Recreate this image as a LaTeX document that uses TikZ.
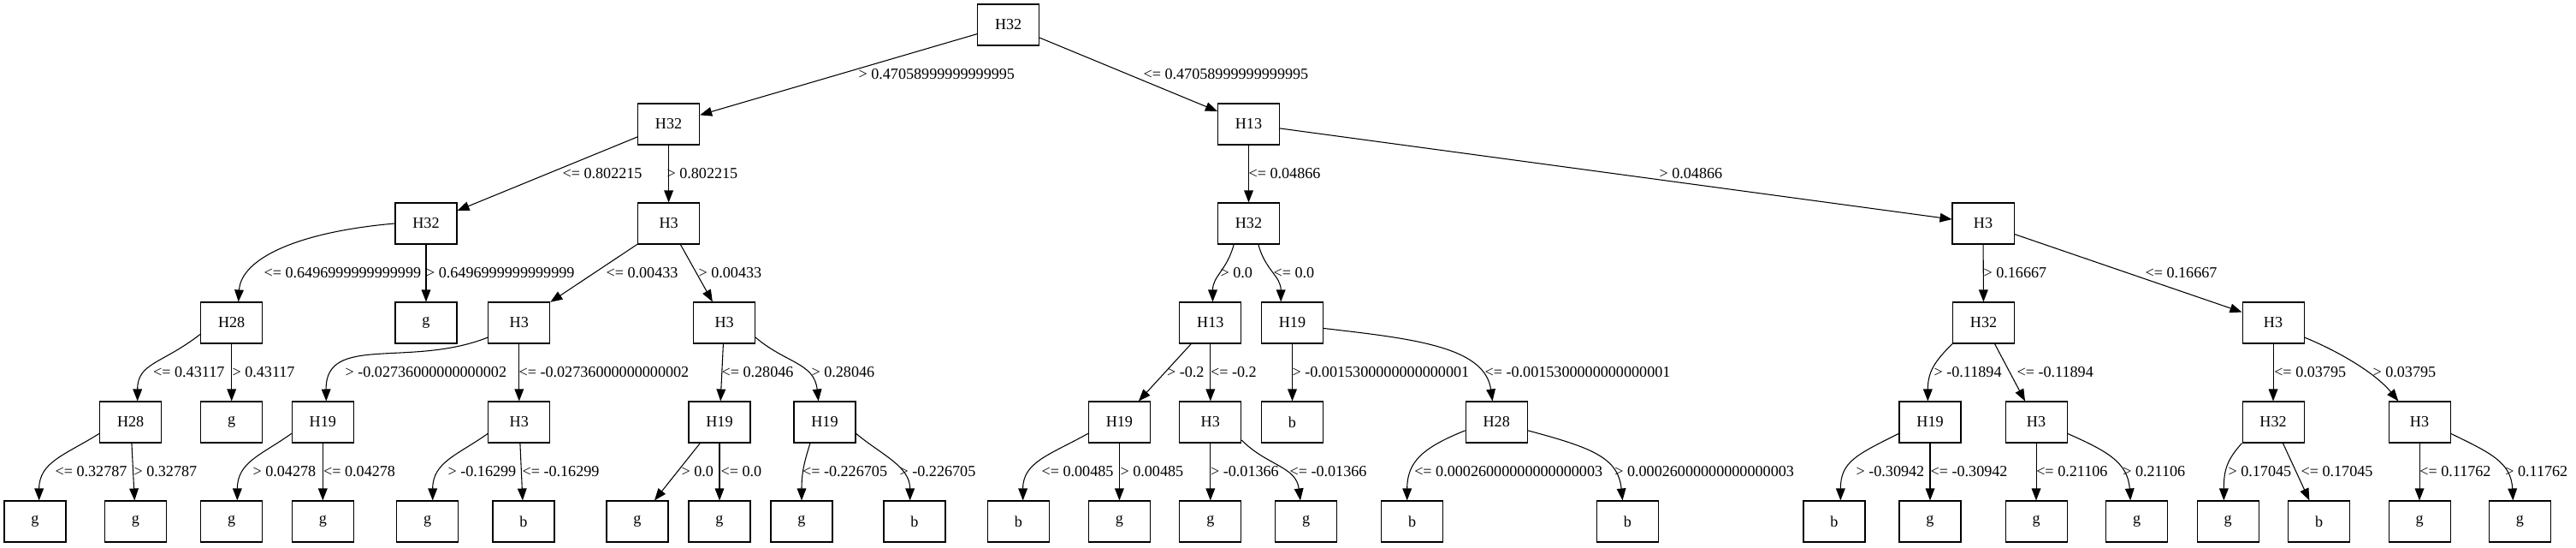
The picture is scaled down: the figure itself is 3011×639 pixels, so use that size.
\documentclass[tikz,border=0pt]{standalone}
\usepackage{fontspec}
\setmainfont{Liberation Serif}
\usetikzlibrary{arrows.meta}

\tikzset{
  box/.style={draw, line width=0.8pt, minimum width=54pt, minimum height=36pt, inner sep=0pt},
  link/.style={line width=0.8pt, -{Triangle[length=10.5pt, width=8pt]}},
  lbl/.style={anchor=west, inner sep=0pt}
}

\begin{document}
\begin{tikzpicture}[x=0.75pt, y=-0.75pt, font=\fontsize{13.6}{16}\selectfont]
    \useasboundingbox (0,0) rectangle (3011,639);
    % level 0 and 1
    \node[box] (t) at (1178.6,29) {H32};
    \node[box] (a1) at (781.6,145) {H32};
    \node[box] (a2) at (1459.5,145) {H13};
    % level 2
    \node[box] (b1) at (498,261) {H32};
    \node[box] (b2) at (781.6,261) {H3};
    \node[box] (b3) at (1459.5,261) {H32};
    \node[box] (b4) at (2318,261) {H3};
    % level 3
    \node[box] (c1) at (270.7,377) {H28};
    \node[box] (c2) at (498,377) {g};
    \node[box] (c3) at (606.8,377) {H3};
    \node[box] (c4) at (846.6,377) {H3};
    \node[box] (c5) at (1414.8,377) {H13};
    \node[box] (c6) at (1510.5,377) {H19};
    \node[box] (c7) at (2318.5,377) {H32};
    \node[box] (c8) at (2657,377) {H3};
    % level 4
    \node[box] (d1) at (152.7,493) {H28};
    \node[box] (d2) at (270.7,493) {g};
    \node[box] (d3) at (377.3,493) {H19};
    \node[box] (d4) at (606.8,493) {H3};
    \node[box] (d5) at (841,493) {H19};
    \node[box] (d6) at (964,493) {H19};
    \node[box] (d7) at (1308.4,493) {H19};
    \node[box] (d8) at (1414.8,493) {H3};
    \node[box] (d9) at (1510.5,493) {b};
    \node[box] (d10) at (1749.2,493) {H28};
    \node[box] (d11) at (2256,493) {H19};
    \node[box] (d12) at (2380,493) {H3};
    \node[box] (d13) at (2657,493) {H32};
    \node[box] (d14) at (2828,493) {H3};
    % leaves
    \node[box] (e1) at (41,609) {g};
    \node[box] (e2) at (158.5,609) {g};
    \node[box] (e3) at (270.7,609) {g};
    \node[box] (e4) at (377.3,609) {g};
    \node[box] (e5) at (499.7,609) {g};
    \node[box] (e6) at (612,609) {b};
    \node[box] (e7) at (745,609) {g};
    \node[box] (e8) at (841,609) {g};
    \node[box] (e9) at (937,609) {g};
    \node[box] (e10) at (1069,609) {b};
    \node[box] (e11) at (1190.3,609) {b};
    \node[box] (e12) at (1308.4,609) {g};
    \node[box] (e13) at (1414.8,609) {g};
    \node[box] (e14) at (1526.6,609) {g};
    \node[box] (e15) at (1650.7,609) {b};
    \node[box] (e16) at (1902.5,609) {b};
    \node[box] (e17) at (2144,609) {b};
    \node[box] (e18) at (2256,609) {g};
    \node[box] (e19) at (2380,609) {g};
    \node[box] (e20) at (2497.5,609) {g};
    \node[box] (e21) at (2604,609) {g};
    \node[box] (e22) at (2710.7,609) {b};
    \node[box] (e23) at (2828,609) {g};
    \node[box] (e24) at (2945.3,609) {g};

    % splits from the root
    \draw[link] (t) -- (a1) node[lbl] at (1003,87) {> 0.47058999999999995};
    \draw[link] (t) -- (a2) node[lbl] at (1336,87) {<= 0.47058999999999995};
    \draw[link] (a1) -- (b1) node[lbl] at (657,203) {<= 0.802215};
    \draw[link] (a1) -- (b2) node[lbl] at (779,203) {> 0.802215};
    \draw[link] (a2) -- (b3) node[lbl] at (1459,203) {<= 0.04866};
    \draw[link] (a2) -- (b4) node[lbl] at (1939,203) {> 0.04866};

    \draw[link] (b1.west) .. controls +(-115,10) and +(3,-50) .. ([xshift=6pt]c1.north)
        node[lbl] at (308,319) {<= 0.6496999999999999};
    \draw[link] (b1) -- (c2) node[lbl] at (497.5,319) {> 0.6496999999999999};
    \draw[link] (b2) -- (c3) node[lbl] at (708,319) {<= 0.00433};
    \draw[link] (b2) -- (c4) node[lbl] at (816,319) {> 0.00433};
    \draw[link] ([xshift=-13pt]b3.south) .. controls +(-8,30) and +(0,-30) .. ([xshift=2pt]c5.north)
        node[lbl] at (1426,319) {> 0.0};
    \draw[link] ([xshift=8.5pt]b3.south) .. controls +(8,30) and +(0,-30) .. ([xshift=-10pt]c6.north)
        node[lbl] at (1488,319) {<= 0.0};
    \draw[link] (b4) -- (c7) node[lbl] at (2318,319) {> 0.16667};
    \draw[link] (b4) -- (c8) node[lbl] at (2507,319) {<= 0.16667};

    \draw[link] (c1.200) .. controls +(-45,35) and +(0,-45) .. ([xshift=6pt]d1.north)
        node[lbl] at (178.6,435) {<= 0.43117};
    \draw[link] (c1) -- (d2) node[lbl] at (271,435) {> 0.43117};
    \draw[link] (c3.205) .. controls +(-91,36) and +(-1,-79) .. ([xshift=3pt]d3.north)
        node[lbl] at (403,435) {> -0.02736000000000002};
    \draw[link] (c3) -- (d4) node[lbl] at (606,435) {<= -0.02736000000000002};
    \draw[link] (c4) -- (d5) node[lbl] at (843,435) {<= 0.28046};
    \draw[link] (c4.-25) .. controls +(35,30) and +(-5,-45) .. ([xshift=-5.5pt]d6.north)
        node[lbl] at (948,435) {> 0.28046};
    \draw[link] (c5) -- (d7) node[lbl] at (1363.5,435) {> -0.2};
    \draw[link] (c5) -- (d8) node[lbl] at (1414.5,435) {<= -0.2};
    \draw[link] (c6) -- (d9) node[lbl] at (1510,435) {> -0.0015300000000000001};
    \draw[link] (c6.-10) .. controls +(103,12) and +(-9,-64) .. ([xshift=-3.5pt]d10.north)
        node[lbl] at (1735,435) {<= -0.0015300000000000001};
    \draw[link] (c7.south west) .. controls +(-20,20) and +(0,-35) .. ([xshift=-2pt]d11.north)
        node[lbl] at (2260,435) {> -0.11894};
    \draw[link] (c7) -- (d12) node[lbl] at (2357,435) {<= -0.11894};
    \draw[link] (c8) -- (d13) node[lbl] at (2657.7,435) {<= 0.03795};
    \draw[link] (c8.-25) .. controls +(37,15) and +(-28,-34) .. ([xshift=-18.5pt]d14.north)
        node[lbl] at (2773,435) {> 0.03795};

    % splits down to the leaves
    \draw[link] (d1.200) .. controls +(-40,25) and +(0,-45) .. ([xshift=3.5pt]e1.north)
        node[lbl] at (64,551) {<= 0.32787};
    \draw[link] (d1) -- (e2) node[lbl] at (156,551) {> 0.32787};
    \draw[link] (d3.200) .. controls +(-35,25) and +(0,-45) .. ([xshift=5pt]e3.north)
        node[lbl] at (295,551) {> 0.04278};
    \draw[link] (d3) -- (e4) node[lbl] at (377.6,551) {<= 0.04278};
    \draw[link] (d4.200) .. controls +(-35,25) and +(0,-45) .. ([xshift=4.5pt]e5.north)
        node[lbl] at (523,551) {> -0.16299};
    \draw[link] (d4) -- (e6) node[lbl] at (610,551) {<= -0.16299};
    \draw[link] ([xshift=-17pt]d5.south) -- ([xshift=15pt]e7.north)
        node[lbl] at (796,551) {> 0.0};
    \draw[link] (d5) -- (e8) node[lbl] at (842,551) {<= 0.0};
    \draw[link] ([xshift=-12.75pt]d6.south) .. controls +(-8,25) and +(0,-30) .. (e9.north)
        node[lbl] at (937.5,551) {<= -0.226705};
    \draw[link] (d6.-20) .. controls +(30,25) and +(0,-40) .. ([xshift=-4pt]e10.north)
        node[lbl] at (1051,551) {> -0.226705};
    \draw[link] (d7.200) .. controls +(-45,25) and +(0,-45) .. ([xshift=4pt]e11.north)
        node[lbl] at (1217,551) {<= 0.00485};
    \draw[link] (d7) -- (e12) node[lbl] at (1309,551) {> 0.00485};
    \draw[link] (d8) -- (e13) node[lbl] at (1414.5,551) {> -0.01366};
    \draw[link] (d8.-30) .. controls +(30,30) and +(-5,-40) .. ([xshift=-5pt]e14.north)
        node[lbl] at (1507,551) {<= -0.01366};
    \draw[link] (d10.195) .. controls +(-50,20) and +(0,-45) .. ([xshift=-4.5pt]e15.north)
        node[lbl] at (1652.7,551) {<= 0.00026000000000000003};
    \draw[link] (d10.-15) .. controls +(75,20) and +(-5,-50) .. ([xshift=-4.5pt]e16.north)
        node[lbl] at (1886.7,551) {> 0.00026000000000000003};
    \draw[link] (d11.200) .. controls +(-50,25) and +(0,-45) .. ([xshift=5.5pt]e17.north)
        node[lbl] at (2169,551) {> -0.30942};
    \draw[link] (d11) -- (e18) node[lbl] at (2256,551) {<= -0.30942};
    \draw[link] (d12) -- (e19) node[lbl] at (2379.7,551) {<= 0.21106};
    \draw[link] (d12.-20) .. controls +(45,20) and +(-3,-45) .. ([xshift=-5.5pt]e20.north)
        node[lbl] at (2480.7,551) {> 0.21106};
    \draw[link] (d13.south west) .. controls +(-18,20) and +(0,-35) .. ([xshift=-3.5pt]e21.north)
        node[lbl] at (2604,551) {> 0.17045};
    \draw[link] (d13) -- (e22) node[lbl] at (2689,551) {<= 0.17045};
    \draw[link] (d14) -- (e23) node[lbl] at (2827.7,551) {<= 0.11762};
    \draw[link] (d14.-20) .. controls +(45,22) and +(-2,-45) .. ([xshift=-6pt]e24.north)
        node[lbl] at (2927.7,551) {> 0.11762};
\end{tikzpicture}
\end{document}
